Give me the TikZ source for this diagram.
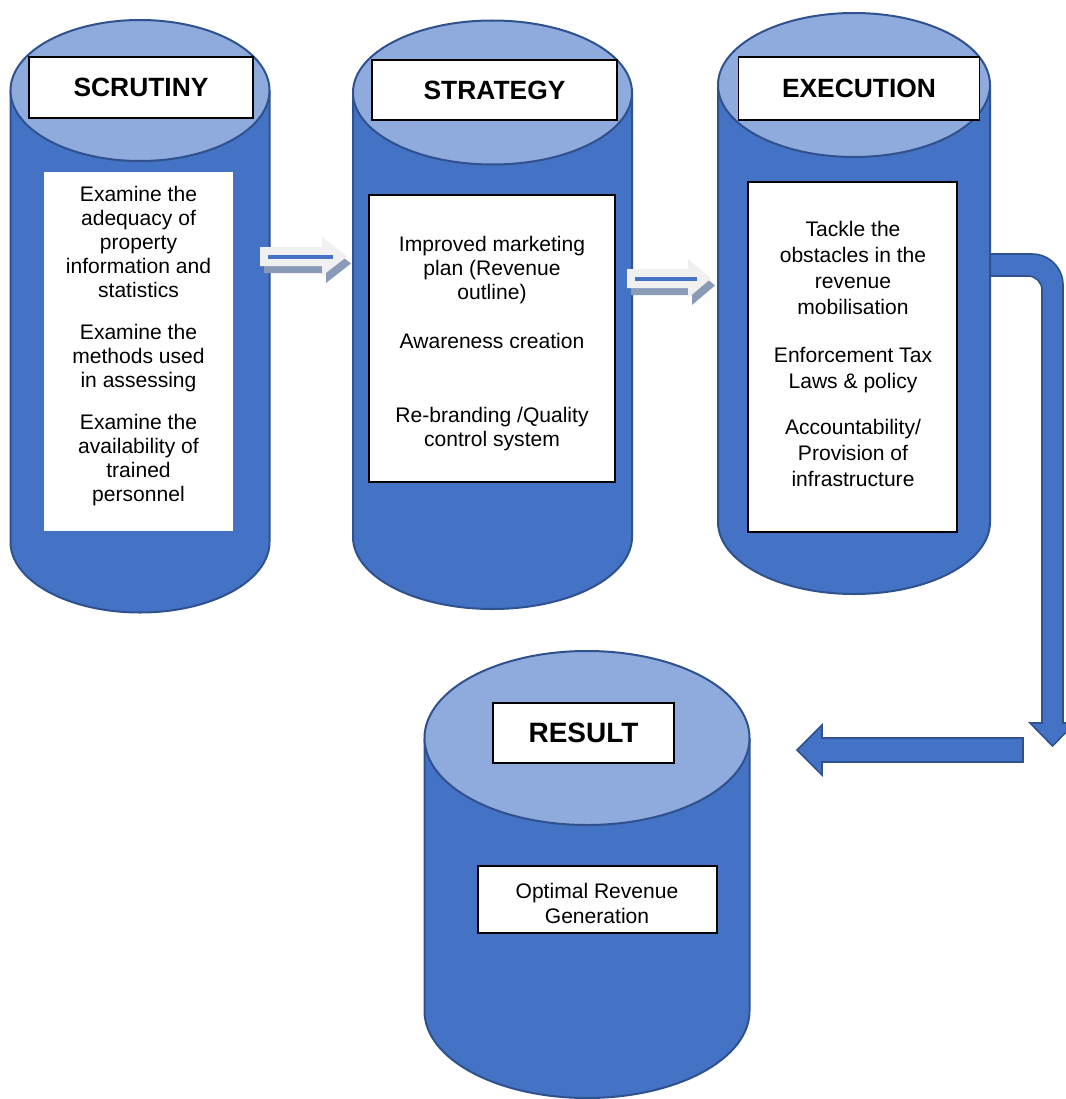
\documentclass[tikz,border=0pt]{standalone}
\usepackage{fontspec}
\setmainfont{Liberation Sans}
\definecolor{bodyblue}{HTML}{4472C4}
\definecolor{topblue}{HTML}{8FAADC}
\definecolor{edgeblue}{HTML}{2F528F}
\definecolor{lightarrow}{HTML}{F0F0F0}
\definecolor{shadowgray}{HTML}{8A9BB8}
% cx, rx, ytop, ybot, ry
\newcommand\mycyl[5]{%
  \draw[cylline, fill=bodyblue] ({#1-#2},#3) -- ({#1-#2},#4)
     arc[start angle=180, end angle=0, x radius=#2, y radius=#5] -- ({#1+#2},#3);
  \draw[cylline, fill=topblue] (#1,#3) ellipse[x radius=#2, y radius=#5];
}
\newcommand\mylightarrow[3]{% name, body length, head length
  \begin{scope}[shift={(#1)}]
    \fill[shadowgray] (4,-2.5) -- ({#2+4},-2.5) -- ({#2+4},-12.5) -- ({#2+#3+4},7) -- ({#2+4},26.5) -- ({#2+4},16.5) -- (4,16.5) -- cycle;
    \fill[lightarrow] (0,-9.5) -- (#2,-9.5) -- (#2,-19.5) -- ({#2+#3},0) -- (#2,19.5) -- (#2,9.5) -- (0,9.5) -- cycle;
    \draw[bodyblue, line width=2.8pt] (8,0.5) -- ({#2+#3-14},0.5);
  \end{scope}
}
\begin{document}
\begin{tikzpicture}[x=0.75pt, y=-0.75pt,
  cylline/.style={draw=edgeblue, line width=1.5pt},
  titlebox/.style={draw=black, fill=white, line width=1pt, inner sep=0pt,
    font=\fontsize{19.8}{24}\selectfont\bfseries},
  textbox/.style={draw=black, fill=white, line width=0.9pt, inner sep=0pt},
  bodytext/.style={align=center, inner sep=0pt, font=\fontsize{15.8}{18}\selectfont},
  bigarrow/.style={fill=bodyblue, draw=edgeblue, line width=1.2pt, line join=miter}]
\useasboundingbox (0,0) rectangle (1066,1099);

% bent arrow from EXECUTION (drawn first, cylinder covers its start)
\coordinate (bendstart) at (975,265);
\draw[bigarrow] (bendstart) ++(0,-11) -- (1032,254) arc[start angle=270, end angle=360, radius=31]
  -- (1063,723) -- (1075,723) -- (1052.5,746) -- (1030,723) -- (1042,723) -- (1042,290)
  arc[start angle=0, end angle=-90, radius=14] -- (975,276) -- cycle;

% cylinders
\mycyl{140}{129.5}{90.5}{542}{70.5}
\mycyl{492.5}{139.5}{92.5}{537}{72}
\mycyl{854}{136}{85}{522}{72}
\mycyl{587}{162.5}{738}{1011}{87}

% title boxes
\node[titlebox, minimum width=224*0.75pt, minimum height=61*0.75pt] (t1) at (141,87.5) {SCRUTINY};
\node[titlebox, minimum width=245*0.75pt, minimum height=60*0.75pt] (t2) at (494.5,90) {STRATEGY};
\node[titlebox, minimum width=241*0.75pt, minimum height=63*0.75pt] (t3) at (859,88.5) {EXECUTION};
\node[titlebox, minimum width=181*0.75pt, minimum height=60*0.75pt,
  font=\fontsize{21}{24}\selectfont\bfseries] (t4) at (583.5,733) {RESULT};

% text boxes
\node[textbox, draw=none, minimum width=189*0.75pt, minimum height=359*0.75pt] (b1) at (138.5,351.5) {};
\node[textbox, minimum width=246*0.75pt, minimum height=287*0.75pt] (b2) at (492,338.5) {};
\node[textbox, minimum width=209*0.75pt, minimum height=350*0.75pt] (b3) at (852.5,357) {};
\node[textbox, minimum width=239*0.75pt, minimum height=67*0.75pt] (b4) at (597.5,899.5) {};

\node[bodytext] (x1) at (138.5,346) {Examine the\\adequacy of\\property\\information and\\statistics\\[13.5pt]Examine the\\methods used\\in assessing\\[13.5pt]Examine the\\availability of\\trained\\personnel};
\node[bodytext] (x2) at (492,344) {Improved marketing\\plan (Revenue\\outline)\\[18.75pt]Awareness creation\\[37.5pt]Re-branding /Quality\\control system};
\node[bodytext, font=\fontsize{15.8}{19.5}\selectfont] (x3) at (853,354) {Tackle the\\obstacles in the\\revenue\\mobilisation\\[16.5pt]Enforcement Tax\\Laws \& policy\\[15pt]Accountability/\\Provision of\\infrastructure};
\node[bodytext, font=\fontsize{15.8}{18.75}\selectfont] (x4) at (597,903) {Optimal Revenue\\Generation};

% light arrows between the first cylinders
\coordinate (la1) at (260,256.5);
\coordinate (la2) at (627,278.5);
\mylightarrow{la1}{62}{25}
\mylightarrow{la2}{61}{23}

% arrow into RESULT
\coordinate (lstart) at (1023,750);
\coordinate (ltip) at (797,750);
\draw[bigarrow] (lstart) ++(0,-12) -- (822,738) -- (822,725) -- (ltip) -- (822,775) -- (822,762) -- (1023,762) -- cycle;
\end{tikzpicture}
\end{document}
